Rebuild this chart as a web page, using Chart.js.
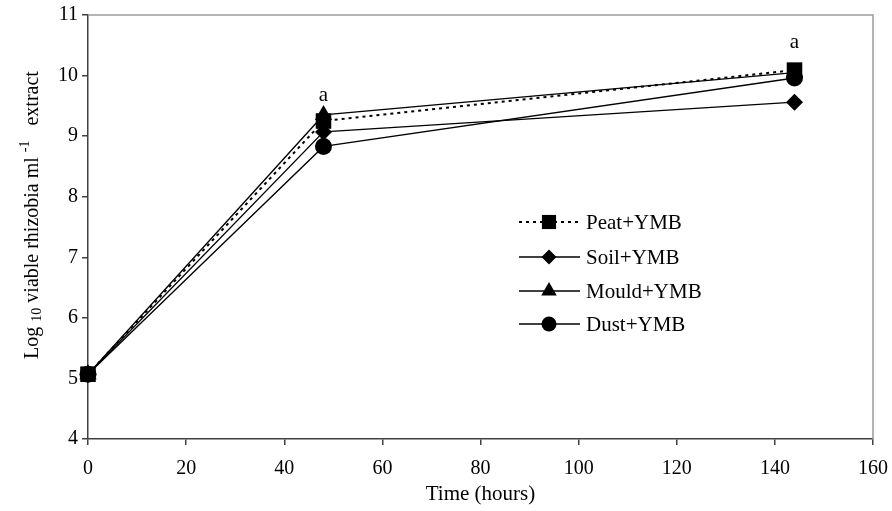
<!DOCTYPE html>
<html>
<head>
<meta charset="utf-8">
<script src="https://cdn.jsdelivr.net/npm/chart.js@4.4.1/dist/chart.umd.min.js"></script>
<style>
  html, body { margin: 0; padding: 0; background: #fff; }
  #wrap { width: 892px; height: 511px; position: relative; }
</style>
</head>
<body>
<div id="wrap"><canvas id="chart"></canvas></div>
<script>
const hours = [0, 48, 144];
const peat = [5.07, 9.25, 10.09];
const soil = [5.07, 9.07, 9.56];
const mould = [5.07, 9.35, 10.05];
const dust = [5.07, 8.83, 9.96];
const xTicks = [0, 20, 40, 60, 80, 100, 120, 140, 160];
const yTicks = [4, 5, 6, 7, 8, 9, 10, 11];
// significance letters: [x, y] in data units
const letters = [[48, 9.67, "a"], [144, 10.55, "a"]];

const FONT = "'Liberation Serif', 'Times New Roman', serif";

function series(label, values, style, radius, dash) {
  return {
    label: label,
    data: hours.map((h, i) => ({ x: h, y: values[i] })),
    borderColor: "#000",
    backgroundColor: "#000",
    borderWidth: dash ? 2 : 1.3,
    borderDash: dash || [],
    pointStyle: style,
    pointRadius: radius,
    pointBorderWidth: 0,
    pointHoverRadius: radius,
    tension: 0,
    clip: false
  };
}

const datasets = [
  series("Peat+YMB", peat, "rect", 11, [3, 4]),
  series("Soil+YMB", soil, "rectRot", 8.5),
  series("Mould+YMB", mould, "triangle", 10),
  series("Dust+YMB", dust, "circle", 8.5)
];

const framePlugin = {
  id: "frame",
  beforeDatasetsDraw(chart) {
    const { ctx, chartArea: a } = chart;
    ctx.save();
    ctx.strokeStyle = "#9a9a9a";
    ctx.lineWidth = 1.5;
    ctx.beginPath();
    ctx.moveTo(a.left, a.top);
    ctx.lineTo(a.right, a.top);
    ctx.lineTo(a.right, a.bottom);
    ctx.stroke();
    ctx.restore();
  }
};

const extrasPlugin = {
  id: "extras",
  afterDraw(chart) {
    const { ctx, scales } = chart;
    ctx.save();
    ctx.fillStyle = "#000";
    ctx.font = "21px " + FONT;
    ctx.textAlign = "center";
    ctx.textBaseline = "middle";
    letters.forEach(([x, y, t]) => {
      ctx.fillText(t, scales.x.getPixelForValue(x), scales.y.getPixelForValue(y));
    });

    // legend, no box
    const rows = [222, 257, 291, 324];
    const x0 = 519, x1 = 580, xm = 549, xt = 586;
    datasets.forEach((ds, i) => {
      const y = rows[i];
      ctx.strokeStyle = "#000";
      ctx.lineWidth = ds.borderWidth;
      ctx.setLineDash(ds.borderDash);
      ctx.beginPath();
      ctx.moveTo(x0, y);
      ctx.lineTo(x1, y);
      ctx.stroke();
      ctx.setLineDash([]);
      ctx.fillStyle = "#000";
      Chart.helpers.drawPoint(ctx, {
        pointStyle: ds.pointStyle, radius: ds.pointRadius - 1, rotation: 0, borderWidth: 0
      }, xm, y);
      ctx.textAlign = "left";
      ctx.textBaseline = "middle";
      ctx.font = "21px " + FONT;
      ctx.fillText(ds.label, xt, y + 1);
    });

    // y axis title with subscript / superscript
    const parts = [
      ["Log ", 20, 0], ["10", 14, 4], [" viable rhizobia ml ", 20, 0],
      ["-1", 14, -8], ["   extract", 20, 0]
    ];
    let total = 0;
    parts.forEach(p => { ctx.font = p[1] + "px " + FONT; total += ctx.measureText(p[0]).width; });
    ctx.translate(33, 215);
    ctx.rotate(-Math.PI / 2);
    let pos = -total / 2;
    ctx.textAlign = "left";
    parts.forEach(p => {
      ctx.font = p[1] + "px " + FONT;
      ctx.fillText(p[0], pos, p[2]);
      pos += ctx.measureText(p[0]).width;
    });
    ctx.restore();
  }
};

new Chart(document.getElementById("chart"), {
  type: "line",
  data: { datasets: datasets },
  options: {
    responsive: true,
    maintainAspectRatio: false,
    animation: false,
    layout: { padding: { top: 15, right: 19, left: 0, bottom: 0 } },
    plugins: { legend: { display: false }, tooltip: { enabled: false } },
    scales: {
      x: {
        type: "linear",
        min: 0,
        max: 160,
        afterBuildTicks: (s) => { s.ticks = xTicks.map(v => ({ value: v })); },
        afterFit: (s) => { s.height = 72; s.paddingLeft = 0; s.paddingRight = 0; },
        grid: { drawOnChartArea: false, color: "#404040", tickLength: 6, lineWidth: 1.5 },
        border: { color: "#404040", width: 1.5 },
        ticks: { color: "#000", font: { family: FONT, size: 20 }, padding: 12, maxRotation: 0 },
        title: { display: true, text: "Time (hours)", color: "#000", font: { family: FONT, size: 21 }, padding: { top: 0, bottom: 4 } }
      },
      y: {
        min: 4,
        max: 11,
        afterBuildTicks: (s) => { s.ticks = yTicks.map(v => ({ value: v })); },
        afterFit: (s) => { s.width = 88; s.paddingTop = 0; s.paddingBottom = 0; },
        grid: { drawOnChartArea: false, color: "#404040", tickLength: 6, lineWidth: 1.5 },
        border: { color: "#404040", width: 1.5 },
        ticks: { color: "#000", font: { family: FONT, size: 20 }, padding: 4 }
      }
    }
  },
  plugins: [framePlugin, extrasPlugin]
});
</script>
</body>
</html>
